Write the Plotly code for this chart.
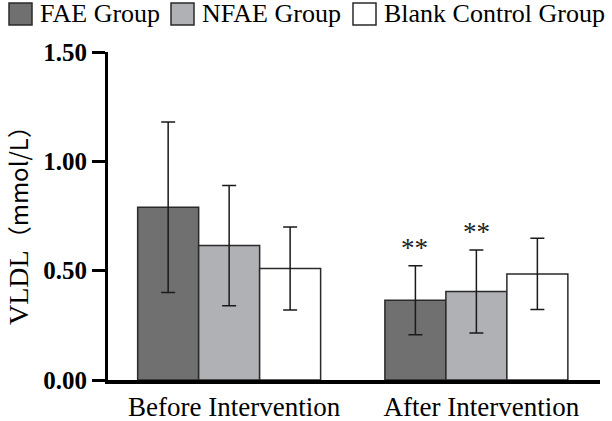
import plotly.graph_objects as go

categories = ["Before Intervention", "After Intervention"]
groups = ["FAE Group", "NFAE Group", "Blank Control Group"]
means = {
    "FAE Group": [0.79, 0.365],
    "NFAE Group": [0.615, 0.405],
    "Blank Control Group": [0.51, 0.485],
}
sds = {
    "FAE Group": [0.39, 0.158],
    "NFAE Group": [0.275, 0.19],
    "Blank Control Group": [0.19, 0.163],
}
colors = {"FAE Group": "#707070", "NFAE Group": "#b0b1b5", "Blank Control Group": "#ffffff"}
sig_marks = {"FAE Group": ["", "**"], "NFAE Group": ["", "**"], "Blank Control Group": ["", ""]}
y_ticks = [0.0, 0.5, 1.0, 1.5]
y_ticklabels = ["0.00", "0.50", "1.00", "1.50"]
y_title_main = "VLDL"
y_title_unit = "（mmol/L）"

# plot area geometry (pixels)
W, H = 612, 421
L, R, T, B = 108, 12, 52, 41
PW, PH = W - L - R, H - T - B


def px(xp):
    return (xp - L) / PW


def py(yp):
    return (H - B - yp) / PH


fig = go.Figure()
for g in groups:
    fig.add_trace(go.Bar(
        name=g, x=categories, y=means[g],
        marker=dict(color=colors[g], line=dict(color="#2a2a2a", width=1.5)),
        error_y=dict(type="data", array=sds[g], visible=True, color="#1a1a1a", thickness=1.5, width=7),
        showlegend=False,
    ))

offsets = {"FAE Group": -62, "NFAE Group": 0, "Blank Control Group": 62}
for g in groups:
    for i, c in enumerate(categories):
        if sig_marks[g][i]:
            fig.add_annotation(x=i, y=means[g][i] + sds[g][i], text=sig_marks[g][i],
                               xref="x", yref="y", showarrow=False, xshift=offsets[g],
                               yanchor="middle", yshift=18,
                               font=dict(family="Liberation Serif", size=27, color="#222"))

# legend drawn in the top margin
legend_box_x = [9, 171, 353]
for g, bx in zip(groups, legend_box_x):
    fig.add_shape(type="rect", xref="paper", yref="paper",
                  x0=px(bx), x1=px(bx + 23), y0=py(25), y1=py(3),
                  fillcolor=colors[g], line=dict(color="#2a2a2a", width=1.5))
    fig.add_annotation(xref="paper", yref="paper", x=px(bx + 29), y=py(14),
                       xanchor="left", yanchor="middle", showarrow=False, text=g,
                       font=dict(family="Liberation Serif", size=26, color="black"))

# y axis title
fig.add_annotation(xref="paper", yref="paper", x=px(17), y=py(220),
                   xanchor="center", yanchor="middle", showarrow=False, textangle=-90,
                   text=(f"<span style='font-size:28px'>{y_title_main}</span>"
                         f"<span style='font-family:Noto Sans CJK SC;font-size:24px'>{y_title_unit}</span>"),
                   font=dict(family="Liberation Serif", size=26, color="black"))

fig.update_layout(
    width=W, height=H,
    margin=dict(l=L, r=R, t=T, b=B, autoexpand=False),
    plot_bgcolor="white", paper_bgcolor="white",
    barmode="group", bargap=0.26, bargroupgap=0,
    font=dict(family="Liberation Serif", color="black"),
    showlegend=False,
)
fig.update_xaxes(range=[-0.49, 1.5], showline=True, linecolor="black", linewidth=4,
                 ticks="", ticklabelshift=5,
                 tickfont=dict(family="Liberation Serif", size=27, color="black"),
                 showgrid=False)
fig.update_yaxes(range=[0, 1.5], tickvals=y_ticks, ticktext=y_ticklabels,
                 showline=True, linecolor="black", linewidth=3,
                 ticks="outside", ticklen=13, tickwidth=3, tickcolor="black",
                 tickfont=dict(family="Liberation Serif", size=25, color="black", weight="bold"),
                 showgrid=False, zeroline=False)

fig.write_html("out.html", config={"displayModeBar": False},
               post_script="document.body.style.margin='0px';")
